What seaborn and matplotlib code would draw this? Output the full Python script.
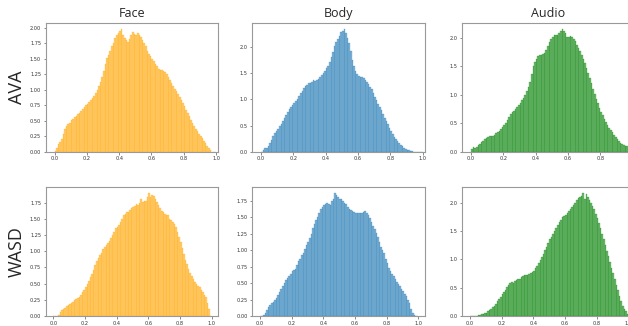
import numpy as np
import pandas as pd
import matplotlib
matplotlib.use("Agg")
import matplotlib.pyplot as plt
import seaborn as sns
from matplotlib.colors import to_rgba

# per-bin densities (100 bins of width 0.01 on [0, 1])
face_ava = [0.01, 0.06, 0.12, 0.16, 0.20, 0.28, 0.36, 0.42, 0.44, 0.47,
            0.51, 0.53, 0.56, 0.58, 0.61, 0.63, 0.66, 0.69, 0.72, 0.76,
            0.77, 0.80, 0.83, 0.87, 0.90, 0.95, 1.00, 1.06, 1.12, 1.20,
            1.30, 1.42, 1.51, 1.57, 1.63, 1.70, 1.76, 1.84, 1.88, 1.91,
            1.95, 1.98, 1.88, 1.83, 1.80, 1.78, 1.82, 1.88, 1.94, 1.90,
            1.89, 1.91, 1.88, 1.85, 1.80, 1.76, 1.70, 1.63, 1.58, 1.54,
            1.50, 1.46, 1.42, 1.38, 1.34, 1.32, 1.32, 1.31, 1.28, 1.25,
            1.21, 1.16, 1.11, 1.06, 1.02, 0.98, 0.94, 0.89, 0.84, 0.79,
            0.74, 0.68, 0.63, 0.57, 0.52, 0.47, 0.42, 0.37, 0.33, 0.29,
            0.25, 0.22, 0.18, 0.14, 0.10, 0.06, 0.02, 0.00, 0.00, 0.00]

body_ava = [0.00, 0.03, 0.07, 0.08, 0.10, 0.16, 0.23, 0.30, 0.35, 0.40,
            0.44, 0.49, 0.53, 0.59, 0.65, 0.71, 0.76, 0.82, 0.86, 0.90,
            0.93, 0.97, 1.01, 1.07, 1.12, 1.16, 1.21, 1.25, 1.28, 1.31,
            1.32, 1.34, 1.36, 1.35, 1.37, 1.38, 1.42, 1.46, 1.50, 1.54,
            1.59, 1.64, 1.71, 1.80, 1.91, 2.01, 2.10, 2.15, 2.21, 2.28,
            2.30, 2.34, 2.26, 2.18, 2.08, 1.92, 1.75, 1.63, 1.55, 1.49,
            1.45, 1.43, 1.42, 1.40, 1.37, 1.33, 1.29, 1.24, 1.19, 1.12,
            1.05, 0.98, 0.92, 0.86, 0.79, 0.72, 0.65, 0.58, 0.52, 0.46,
            0.40, 0.34, 0.28, 0.24, 0.20, 0.16, 0.13, 0.10, 0.08, 0.06,
            0.04, 0.03, 0.02, 0.01, 0.00, 0.00, 0.00, 0.00, 0.00, 0.00]

audio_ava = [0.05, 0.08, 0.07, 0.09, 0.12, 0.14, 0.17, 0.19, 0.22, 0.24,
             0.25, 0.27, 0.28, 0.28, 0.30, 0.32, 0.35, 0.37, 0.40, 0.43,
             0.46, 0.50, 0.55, 0.61, 0.66, 0.69, 0.72, 0.75, 0.78, 0.82,
             0.85, 0.90, 0.95, 1.00, 1.06, 1.13, 1.22, 1.36, 1.50, 1.57,
             1.63, 1.68, 1.69, 1.70, 1.71, 1.74, 1.79, 1.86, 1.93, 1.97,
             2.01, 2.04, 2.05, 2.04, 2.09, 2.12, 2.15, 2.11, 2.08, 2.02,
             2.01, 2.03, 2.02, 1.98, 1.94, 1.88, 1.82, 1.76, 1.70, 1.63,
             1.55, 1.47, 1.38, 1.29, 1.20, 1.10, 1.01, 0.93, 0.85, 0.77,
             0.70, 0.64, 0.58, 0.52, 0.47, 0.42, 0.38, 0.34, 0.30, 0.26,
             0.22, 0.19, 0.15, 0.13, 0.11, 0.10, 0.10, 0.07, 0.04, 0.02]

face_wasd = [0.00, 0.00, 0.00, 0.02, 0.06, 0.09, 0.11, 0.13, 0.15, 0.17,
             0.19, 0.20, 0.22, 0.24, 0.26, 0.28, 0.30, 0.33, 0.37, 0.40,
             0.44, 0.49, 0.54, 0.60, 0.65, 0.71, 0.78, 0.85, 0.90, 0.94,
             0.97, 1.03, 1.07, 1.09, 1.12, 1.16, 1.20, 1.25, 1.30, 1.35,
             1.38, 1.41, 1.45, 1.50, 1.55, 1.58, 1.60, 1.61, 1.63, 1.66,
             1.68, 1.70, 1.72, 1.71, 1.75, 1.80, 1.76, 1.78, 1.77, 1.84,
             1.89, 1.84, 1.87, 1.85, 1.80, 1.76, 1.71, 1.66, 1.62, 1.60,
             1.58, 1.56, 1.55, 1.50, 1.48, 1.45, 1.42, 1.37, 1.30, 1.22,
             1.14, 1.05, 0.96, 0.87, 0.80, 0.73, 0.67, 0.61, 0.57, 0.53,
             0.50, 0.47, 0.44, 0.40, 0.37, 0.33, 0.29, 0.20, 0.11, 0.00]

body_wasd = [0.00, 0.00, 0.02, 0.05, 0.09, 0.14, 0.17, 0.19, 0.21, 0.24,
             0.27, 0.32, 0.37, 0.41, 0.45, 0.50, 0.55, 0.58, 0.60, 0.64,
             0.68, 0.70, 0.72, 0.78, 0.84, 0.87, 0.93, 0.95, 1.01, 1.07,
             1.12, 1.18, 1.25, 1.33, 1.40, 1.45, 1.50, 1.56, 1.62, 1.65,
             1.68, 1.70, 1.72, 1.70, 1.68, 1.74, 1.78, 1.86, 1.83, 1.80,
             1.78, 1.77, 1.75, 1.72, 1.70, 1.66, 1.63, 1.61, 1.60, 1.58,
             1.57, 1.56, 1.57, 1.57, 1.56, 1.58, 1.59, 1.57, 1.54, 1.48,
             1.42, 1.37, 1.32, 1.26, 1.20, 1.12, 1.05, 1.00, 0.95, 0.87,
             0.80, 0.73, 0.68, 0.64, 0.60, 0.56, 0.52, 0.48, 0.45, 0.41,
             0.38, 0.34, 0.30, 0.25, 0.19, 0.10, 0.04, 0.01, 0.00, 0.00]

audio_wasd = [0.00, 0.00, 0.00, 0.00, 0.00, 0.01, 0.02, 0.03, 0.04, 0.05,
              0.06, 0.08, 0.10, 0.12, 0.15, 0.18, 0.22, 0.26, 0.30, 0.34,
              0.38, 0.42, 0.46, 0.51, 0.55, 0.58, 0.60, 0.59, 0.61, 0.64,
              0.65, 0.66, 0.68, 0.71, 0.72, 0.72, 0.73, 0.74, 0.76, 0.78,
              0.80, 0.84, 0.88, 0.93, 0.98, 1.04, 1.10, 1.16, 1.22, 1.29,
              1.35, 1.40, 1.45, 1.50, 1.55, 1.60, 1.65, 1.70, 1.75, 1.76,
              1.78, 1.81, 1.85, 1.88, 1.92, 1.96, 2.00, 2.04, 2.08, 2.10,
              2.12, 2.16, 2.06, 2.15, 2.10, 2.05, 2.00, 1.94, 1.88, 1.80,
              1.72, 1.64, 1.55, 1.45, 1.35, 1.25, 1.15, 1.05, 0.95, 0.85,
              0.75, 0.65, 0.55, 0.45, 0.35, 0.26, 0.18, 0.12, 0.08, 0.03]

modalities = ["Face", "Body", "Audio"]
datasets = ["AVA", "WASD"]
colors = ["orange", "#1f77b4", "green"]
ytick_steps = [[0.25, 0.5, 0.5], [0.25, 0.25, 0.5]]

heights = [[face_ava, body_ava, audio_ava],
           [face_wasd, body_wasd, audio_wasd]]

n_bins = 100
centers = (np.arange(n_bins) + 0.5) / n_bins

sns.set_theme(style="white")
plt.rcParams["font.family"] = ["DejaVu Sans"]

fig = plt.figure(figsize=(6.28, 3.26), dpi=100)
W, H = 628, 326
col_left = [45.7, 252.3, 462.3]
row_top = [23, 187.3]
ax_w, ax_h = 172.3, 128.7
xlims = [(-0.055, 1.012), (-0.048, 1.04)]

for r in range(2):
    for c in range(3):
        ax = fig.add_axes([col_left[c] / W, 1 - (row_top[r] + ax_h) / H,
                           ax_w / W, ax_h / H])
        df = pd.DataFrame({"x": centers, "density": heights[r][c]})
        sns.histplot(data=df, x="x", weights="density", bins=n_bins,
                     binrange=(0, 1), stat="count", ax=ax, color=colors[c])
        for p in ax.patches:
            p.set_alpha(None)
            p.set_facecolor(to_rgba(colors[c], 0.55))
            p.set_edgecolor(to_rgba(colors[c], 0.75))
            p.set_linewidth(0.22)
        ax.set_xlim(*xlims[r])
        ax.set_xticks(np.arange(0, 1.01, 0.2))
        ax.yaxis.set_major_locator(plt.MultipleLocator(ytick_steps[r][c]))
        ax.yaxis.set_major_formatter(
            plt.FormatStrFormatter("%.2f" if ytick_steps[r][c] == 0.25 else "%.1f"))
        ax.set_xlabel("")
        ax.set_ylabel("")
        ax.tick_params(labelsize=3.6, length=1.8, width=0.4, pad=1.5,
                       colors="#333333", bottom=True, left=True)
        for s in ax.spines.values():
            s.set_color("#999999")
            s.set_linewidth(0.8)
        if r == 0:
            ax.set_title(modalities[c], fontsize=9, family="Open Sans", pad=4)
        if c == 0:
            fig.text(17 / W, 1 - (row_top[r] + ax_h / 2) / H, datasets[r],
                     rotation=90, ha="center", va="center",
                     fontsize=13, family="Open Sans")

fig.savefig("out.png", dpi=100)
